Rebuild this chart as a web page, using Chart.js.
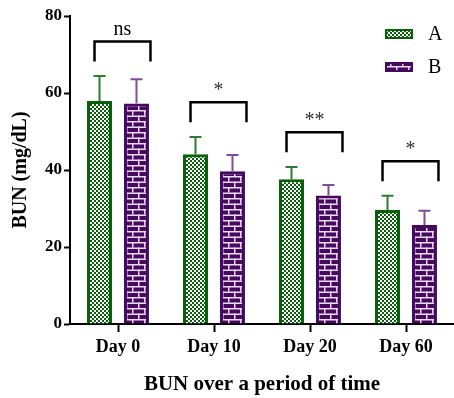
<!DOCTYPE html>
<html>
<head>
<meta charset="utf-8">
<script src="https://cdn.jsdelivr.net/npm/chart.js@4/dist/chart.umd.min.js"></script>
<style>
  html, body { margin: 0; padding: 0; background: #fff; overflow: hidden; }
  #wrap { width: 454px; height: 398px; position: relative; }
</style>
</head>
<body>
<div id="wrap"><canvas id="bun-chart"></canvas></div>
<script>
// data
const days = ['Day 0', 'Day 10', 'Day 20', 'Day 60'];
const meanA = [57.9, 44.1, 37.6, 29.6];
const meanB = [57.3, 39.7, 33.4, 25.7];
const errA = [6.5, 4.5, 3.2, 3.7];
const errB = [6.3, 4.2, 2.7, 3.7];
const sigLabels = ['ns', '*', '**', '*'];
const yTicks = [0, 20, 40, 60, 80];
const seriesNames = ['A', 'B'];

const SERIF = "'Times New Roman', 'Liberation Serif', serif";
const GREEN = '#0a5f0a';
const PURPLE = '#46095f';

const makeChecker = () => {
  const c = document.createElement('canvas');
  c.width = 4; c.height = 4;
  const g = c.getContext('2d');
  g.fillStyle = GREEN;
  g.fillRect(0, 0, 4, 4);
  g.fillStyle = '#ffffff';
  g.fillRect(0, 0, 2, 2);
  g.fillRect(2, 2, 2, 2);
  return g.createPattern(c, 'repeat');
};

const makeBricks = () => {
  const c = document.createElement('canvas');
  c.width = 12; c.height = 11;
  const g = c.getContext('2d');
  g.fillStyle = PURPLE;
  g.fillRect(0, 0, 12, 11);
  g.fillStyle = '#eadcf2';
  g.fillRect(0, 0, 12, 1.5);
  g.fillRect(0, 5.5, 12, 1.5);
  g.fillRect(0, 0, 1.5, 5.5);
  g.fillRect(6, 5.5, 1.5, 5.5);
  return g.createPattern(c, 'repeat');
};

const ctx = document.getElementById('bun-chart').getContext('2d');
const checker = makeChecker();
const bricks = makeBricks();

const errorBars = {
  id: 'errorBars',
  afterDatasetsDraw(chart) {
    const { ctx, scales: { y } } = chart;
    const errs = [errA, errB];
    const means = [meanA, meanB];
    const colors = ['#2e7d2e', '#7c4f96'];
    ctx.save();
    ctx.lineWidth = 2;
    for (let d = 0; d < 2; d++) {
      const meta = chart.getDatasetMeta(d);
      ctx.strokeStyle = colors[d];
      meta.data.forEach((bar, i) => {
        const top = y.getPixelForValue(means[d][i] + errs[d][i]);
        ctx.beginPath();
        ctx.moveTo(bar.x, bar.y);
        ctx.lineTo(bar.x, top);
        ctx.moveTo(bar.x - 6, top);
        ctx.lineTo(bar.x + 6, top);
        ctx.stroke();
      });
    }
    ctx.restore();
  },
};

const brackets = {
  id: 'brackets',
  afterDraw(chart) {
    const { ctx, scales: { y } } = chart;
    const metaA = chart.getDatasetMeta(0);
    const metaB = chart.getDatasetMeta(1);
    ctx.save();
    ctx.lineWidth = 2.5;
    ctx.strokeStyle = '#000';
    days.forEach((d, i) => {
      const peak = Math.max(meanA[i] + errA[i], meanB[i] + errB[i]);
      const yLine = y.getPixelForValue(peak + 9);
      const yLeg = y.getPixelForValue(peak + 3.8);
      const xL = metaA.data[i].x - 5;
      const xR = metaB.data[i].x + 14;
      ctx.beginPath();
      ctx.moveTo(xL, yLeg);
      ctx.lineTo(xL, yLine);
      ctx.lineTo(xR, yLine);
      ctx.lineTo(xR, yLeg);
      ctx.stroke();
      ctx.fillStyle = sigLabels[i] === 'ns' ? '#000' : '#333';
      ctx.font = '20px ' + SERIF;
      ctx.textAlign = 'center';
      ctx.textBaseline = 'alphabetic';
      ctx.fillText(sigLabels[i], (xL + xR) / 2, yLine - 6);
    });

    // legend
    const fills = [checker, bricks];
    const borders = [GREEN, PURPLE];
    const rows = [34, 67];
    seriesNames.forEach((name, k) => {
      ctx.fillStyle = fills[k];
      ctx.fillRect(385, rows[k] - 5, 28, 10);
      ctx.strokeStyle = borders[k];
      ctx.lineWidth = 2;
      ctx.strokeRect(386, rows[k] - 4, 26, 8);
      ctx.fillStyle = '#000';
      ctx.font = '20px ' + SERIF;
      ctx.textAlign = 'left';
      ctx.textBaseline = 'middle';
      ctx.fillText(name, 428, rows[k] + 1);
    });
    ctx.restore();
  },
};

new Chart(ctx, {
  type: 'bar',
  data: {
    labels: days,
    datasets: [
      {
        label: seriesNames[0],
        data: meanA,
        backgroundColor: checker,
        borderColor: GREEN,
        borderWidth: 3,
      },
      {
        label: seriesNames[1],
        data: meanB,
        backgroundColor: bricks,
        borderColor: PURPLE,
        borderWidth: 3,
      },
    ],
  },
  options: {
    responsive: true,
    maintainAspectRatio: false,
    animation: false,
    categoryPercentage: 0.77,
    barPercentage: 0.676,
    layout: { padding: { top: 16, right: 0, left: 0, bottom: 0 } },
    plugins: {
      legend: { display: false },
      tooltip: { enabled: false },
    },
    scales: {
      x: {
        afterFit: (s) => { s.height = 74; },
        grid: {
          display: true,
          offset: false,
          drawOnChartArea: false,
          drawTicks: true,
          tickLength: 8,
          tickColor: '#000',
          tickWidth: 2,
        },
        border: { display: true, color: '#000', width: 2 },
        ticks: {
          color: '#000',
          padding: 5,
          font: { family: SERIF, size: 18, weight: 'bold' },
        },
        title: {
          display: true,
          text: 'BUN over a period of time',
          color: '#000',
          padding: { top: 0, bottom: 1 },
          font: { family: SERIF, size: 21, weight: 'bold' },
        },
      },
      y: {
        min: 0,
        max: 80,
        afterFit: (s) => { s.width = 70; },
        afterBuildTicks: (s) => { s.ticks = yTicks.map((v) => ({ value: v })); },
        grid: {
          display: true,
          drawOnChartArea: false,
          drawTicks: true,
          tickLength: 6,
          tickColor: '#000',
          tickWidth: 2,
        },
        border: { display: true, color: '#000', width: 2 },
        ticks: {
          color: '#000',
          padding: 2,
          font: { family: SERIF, size: 17, weight: 'bold' },
        },
        title: {
          display: true,
          text: 'BUN (mg/dL)',
          color: '#000',
          padding: { top: 9, bottom: 0 },
          font: { family: SERIF, size: 20, weight: 'bold' },
        },
      },
    },
  },
  plugins: [errorBars, brackets],
});
</script>
</body>
</html>
